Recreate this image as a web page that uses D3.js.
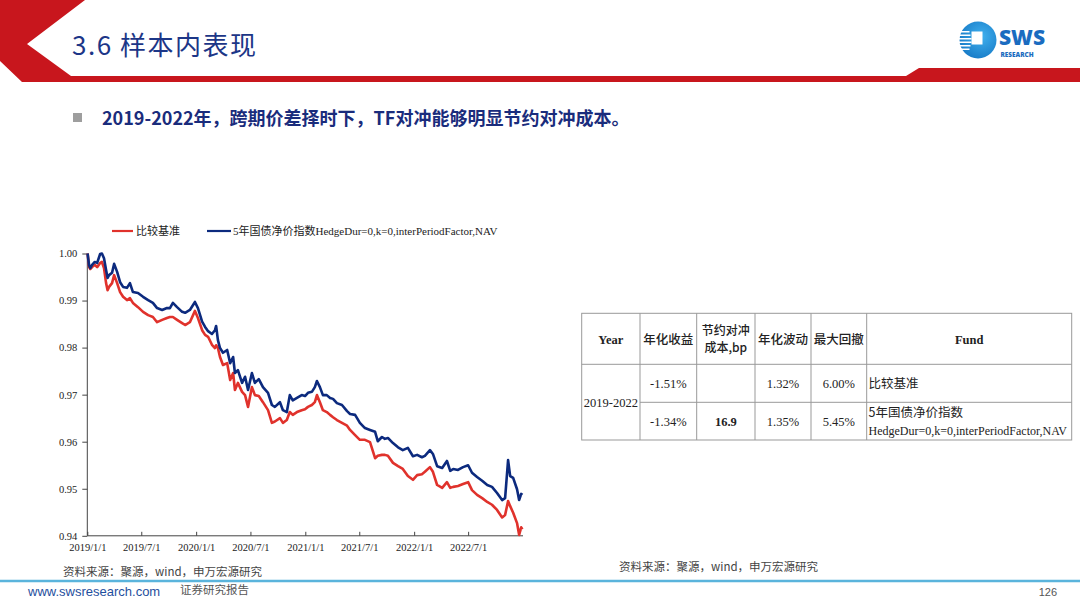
<!DOCTYPE html>
<html><head><meta charset="utf-8">
<script src="https://cdnjs.cloudflare.com/ajax/libs/d3/7.8.5/d3.min.js"></script>
<style>
html,body{margin:0;padding:0;background:#fff;}
svg{display:block;}
</style></head>
<body>
<svg id="slide" width="1080" height="608"></svg>
<script>
// ---------- data ----------
const dates = ["2019-01-02","2019-01-07","2019-01-11","2019-01-17","2019-01-26","2019-02-03","2019-02-13","2019-02-19","2019-02-26","2019-03-05","2019-03-10","2019-03-15","2019-03-25","2019-04-01","2019-04-11","2019-04-21","2019-05-01","2019-05-14","2019-05-24","2019-06-03","2019-06-20","2019-07-07","2019-07-24","2019-08-09","2019-08-23","2019-09-09","2019-09-25","2019-10-05","2019-10-15","2019-10-29","2019-11-15","2019-11-25","2019-12-11","2019-12-28","2020-01-07","2020-01-21","2020-01-31","2020-02-10","2020-02-23","2020-03-04","2020-03-08","2020-03-14","2020-03-21","2020-03-31","2020-04-14","2020-04-24","2020-05-04","2020-05-10","2020-05-20","2020-06-03","2020-06-13","2020-06-23","2020-07-06","2020-07-16","2020-07-29","2020-08-12","2020-08-29","2020-09-11","2020-09-21","2020-10-08","2020-10-18","2020-10-31","2020-11-10","2020-11-20","2020-12-04","2020-12-20","2020-12-31","2021-01-10","2021-01-23","2021-02-02","2021-02-09","2021-02-19","2021-03-01","2021-03-14","2021-03-25","2021-04-04","2021-04-17","2021-05-04","2021-05-21","2021-05-31","2021-06-17","2021-07-03","2021-07-20","2021-08-06","2021-08-23","2021-09-01","2021-09-15","2021-09-25","2021-10-05","2021-10-22","2021-11-08","2021-11-24","2021-12-11","2021-12-28","2022-01-11","2022-01-27","2022-02-06","2022-02-23","2022-03-05","2022-03-19","2022-04-05","2022-04-21","2022-05-02","2022-05-12","2022-05-28","2022-06-14","2022-07-01","2022-07-14","2022-07-31","2022-08-17","2022-09-03","2022-09-19","2022-10-06","2022-10-23","2022-11-02","2022-11-12","2022-11-19","2022-11-29","2022-12-12","2022-12-19","2022-12-26","2022-12-30"];

// 比较基准 (red)
const benchmark = [1.0000,0.9971,0.9967,0.9971,0.9976,0.9971,0.9980,0.9982,0.9969,0.9937,0.9922,0.9929,0.9937,0.9954,0.9937,0.9918,0.9908,0.9901,0.9905,0.9895,0.9886,0.9876,0.9869,0.9865,0.9854,0.9859,0.9863,0.9865,0.9865,0.9859,0.9852,0.9848,0.9854,0.9878,0.9863,0.9837,0.9827,0.9823,0.9806,0.9799,0.9805,0.9799,0.9780,0.9763,0.9767,0.9731,0.9746,0.9710,0.9725,0.9706,0.9699,0.9674,0.9716,0.9699,0.9697,0.9684,0.9667,0.9640,0.9643,0.9650,0.9640,0.9646,0.9663,0.9657,0.9663,0.9667,0.9669,0.9674,0.9678,0.9684,0.9699,0.9684,0.9667,0.9663,0.9657,0.9652,0.9646,0.9640,0.9634,0.9625,0.9614,0.9604,0.9604,0.9599,0.9565,0.9570,0.9572,0.9572,0.9570,0.9555,0.9548,0.9542,0.9527,0.9519,0.9529,0.9531,0.9536,0.9546,0.9536,0.9508,0.9502,0.9514,0.9502,0.9504,0.9506,0.9510,0.9514,0.9497,0.9487,0.9480,0.9472,0.9466,0.9455,0.9439,0.9444,0.9474,0.9463,0.9449,0.9427,0.9402,0.9418,0.9414];

// 5年国债净价指数HedgeDur=0,k=0,interPeriodFactor,NAV (blue)
const hedged = [1.0000,0.9975,0.9969,0.9976,0.9982,0.9980,0.9999,1.0000,0.9990,0.9965,0.9948,0.9954,0.9959,0.9978,0.9961,0.9939,0.9929,0.9927,0.9937,0.9918,0.9916,0.9908,0.9901,0.9895,0.9884,0.9880,0.9884,0.9884,0.9895,0.9886,0.9876,0.9874,0.9880,0.9897,0.9884,0.9855,0.9844,0.9835,0.9829,0.9837,0.9846,0.9816,0.9799,0.9789,0.9795,0.9767,0.9780,0.9746,0.9752,0.9725,0.9738,0.9710,0.9746,0.9725,0.9733,0.9716,0.9704,0.9678,0.9674,0.9684,0.9667,0.9663,0.9699,0.9688,0.9693,0.9699,0.9697,0.9704,0.9706,0.9716,0.9729,0.9716,0.9699,0.9699,0.9693,0.9691,0.9682,0.9678,0.9665,0.9659,0.9657,0.9640,0.9629,0.9625,0.9621,0.9601,0.9610,0.9606,0.9608,0.9597,0.9588,0.9582,0.9587,0.9569,0.9572,0.9567,0.9570,0.9582,0.9574,0.9548,0.9544,0.9559,0.9538,0.9542,0.9540,0.9546,0.9550,0.9534,0.9525,0.9517,0.9508,0.9504,0.9491,0.9476,0.9480,0.9561,0.9527,0.9523,0.9499,0.9476,0.9489,0.9487];

const seriesNames = ["比较基准","5年国债净价指数HedgeDur=0,k=0,interPeriodFactor,NAV"];
const yTickValues = [0.94,0.95,0.96,0.97,0.98,0.99,1.00];
const xTickDates = ["2019-01-01","2019-07-01","2020-01-01","2020-07-01","2021-01-01","2021-07-01","2022-01-01","2022-07-01"];

const tableHeader = ["Year","年化收益","节约对冲|成本,bp","年化波动","最大回撤","Fund"];
const tableYear = "2019-2022";
const rowReturn = ["-1.51%","-1.34%"];
const rowSaving = ["","16.9"];
const rowVol = ["1.32%","1.35%"];
const rowDrawdown = ["6.00%","5.45%"];
const rowFund = [["比较基准"],["5年国债净价指数","HedgeDur=0,k=0,interPeriodFactor,NAV"]];

// ---------- drawing ----------
const svg = d3.select("#slide");
const RED = "#e0322c", BLUE = "#0c2a7e", SERIF = "'Liberation Serif','Noto Sans CJK SC',serif", SANS = "'Noto Sans CJK SC','Noto Sans',sans-serif";

// header band
svg.append("path")
  .attr("d","M0,0 L85,0 L27,44 L71,76 L906,76 L919,68 L1080,68 L1080,82 L22,82 L0,61 Z")
  .attr("fill","#c8161d");
svg.append("text").attr("x",72).attr("y",54.5)
  .attr("font-family","'Noto Sans CJK SC','Noto Sans',sans-serif").attr("font-size",26)
  .attr("letter-spacing",1.5).attr("fill","#1c3687").text("3.6 样本内表现");

// logo
const logo = svg.append("g");
const grad = svg.append("defs").append("radialGradient").attr("id","lg").attr("cx","60%").attr("cy","40%").attr("r","70%");
grad.append("stop").attr("offset","0%").attr("stop-color","#3fb0ee");
grad.append("stop").attr("offset","100%").attr("stop-color","#1577c4");
logo.append("circle").attr("cx",978).attr("cy",40).attr("r",18.5).attr("fill","url(#lg)");
[31,34.5,38,41.5,45,48.5].forEach((y,i)=>{
  logo.append("rect").attr("x",959).attr("y",y).attr("width",13-Math.abs(i-2.5)*1).attr("height",1.5).attr("fill","#fff");
});
logo.append("rect").attr("x",971.5).attr("y",31.5).attr("width",11).attr("height",13).attr("fill","#fff");
logo.append("text").attr("x",999).attr("y",45).attr("font-family","'Open Sans','Noto Sans',sans-serif")
  .attr("font-weight",800).attr("font-size",21).attr("fill","#1a6cc0").text("SWS");
logo.append("text").attr("x",1000.5).attr("y",57).attr("font-family","'Open Sans','Noto Sans',sans-serif")
  .attr("font-weight",800).attr("font-size",6.4).attr("fill","#1a6cc0").text("RESEARCH");

// bullet line
svg.append("rect").attr("x",73).attr("y",113).attr("width",9).attr("height",9).attr("fill","#9e9e9e");
svg.append("text").attr("x",102).attr("y",125)
  .attr("font-family",SANS).attr("font-weight",700).attr("font-size",18)
  .attr("fill","#1a2c7c").text("2019-2022年，跨期价差择时下，TF对冲能够明显节约对冲成本。");

// chart
const parse = d3.timeParse("%Y-%m-%d");
const x = d3.scaleTime().domain([parse("2019-01-01"), parse("2023-01-01")]).range([87.3, 523]);
const y = d3.scaleLinear().domain([0.94, 1.00]).range([535.8, 253.5]);

const gx = svg.append("g").attr("transform","translate(0,535.8)")
  .call(d3.axisBottom(x).tickValues(xTickDates.map(parse)).tickSizeInner(-4).tickSizeOuter(0)
    .tickFormat(d3.timeFormat("%Y/%-m/%-d")).tickPadding(8));
const gy = svg.append("g").attr("transform","translate(87.3,0)")
  .call(d3.axisLeft(y).tickValues(yTickValues).tickSizeInner(5).tickSizeOuter(0)
    .tickFormat(d3.format(".2f")).tickPadding(5));
[gx,gy].forEach(g=>{
  g.selectAll("path,line").attr("stroke","#444").attr("stroke-width",1);
  g.selectAll("text").attr("font-family",SERIF).attr("font-size",10.5).attr("fill","#222");
});
gy.select(".domain").attr("d","M0,253.5V535.8");
gx.select(".domain").attr("d","M87.3,0H523");

const line = d3.line().x((d,i)=>x(parse(dates[i]))).y(d=>y(d)).curve(d3.curveLinear);
svg.append("path").datum(benchmark).attr("d",line).attr("fill","none")
  .attr("stroke",RED).attr("stroke-width",2.6).attr("stroke-linejoin","round");
svg.append("path").datum(hedged).attr("d",line).attr("fill","none")
  .attr("stroke",BLUE).attr("stroke-width",2.6).attr("stroke-linejoin","round");

// legend
const legend = [{c:RED,x1:112,x2:133,tx:136},{c:BLUE,x1:207,x2:231,tx:233}];
legend.forEach((l,i)=>{
  svg.append("line").attr("x1",l.x1).attr("x2",l.x2).attr("y1",231).attr("y2",231)
    .attr("stroke",l.c).attr("stroke-width",2.2);
  svg.append("text").attr("x",l.tx).attr("y",235).attr("font-family",SERIF)
    .attr("font-size",11).attr("fill","#222").text(seriesNames[i]);
});

// sources
svg.append("text").attr("x",63).attr("y",576).attr("font-family",SANS).attr("font-size",11.5)
  .attr("fill","#444").text("资料来源：聚源，wind，申万宏源研究");
svg.append("text").attr("x",619).attr("y",571).attr("font-family",SANS).attr("font-size",11.5)
  .attr("fill","#444").text("资料来源：聚源，wind，申万宏源研究");

// table
const colX = [581.7,640,696.7,755,811,866.7,1071.7];
const rowY = [313.3,364.3,402.3,440];
const tg = svg.append("g");
tg.append("rect").attr("x",colX[0]).attr("y",rowY[0]).attr("width",colX[6]-colX[0]).attr("height",rowY[3]-rowY[0])
  .attr("fill","none").attr("stroke","#999").attr("stroke-width",1);
colX.slice(1,6).forEach(cx=>tg.append("line").attr("x1",cx).attr("x2",cx).attr("y1",rowY[0]).attr("y2",rowY[3]).attr("stroke","#999"));
tg.append("line").attr("x1",colX[0]).attr("x2",colX[6]).attr("y1",rowY[1]).attr("y2",rowY[1]).attr("stroke","#999");
tg.append("line").attr("x1",colX[1]).attr("x2",colX[6]).attr("y1",rowY[2]).attr("y2",rowY[2]).attr("stroke","#999");

const cmid = i => (colX[i]+colX[i+1])/2;
tableHeader.forEach((h,i)=>{
  const parts = h.split("|");
  const latin = /^[A-Za-z]+$/.test(h);
  parts.forEach((p,j)=>{
    tg.append("text").attr("x",cmid(i)).attr("text-anchor","middle")
      .attr("y",parts.length===1 ? 343.5 : 335+j*17)
      .attr("font-family",latin?SERIF:SANS).attr("font-weight",latin?700:500)
      .attr("font-size",parts.length===1?12.5:12).attr("fill","#222").text(p);
  });
});
tg.append("text").attr("x",cmid(0)).attr("y",406.5).attr("text-anchor","middle")
  .attr("font-family",SERIF).attr("font-size",12.5).attr("fill","#222").text(tableYear);
[0,1].forEach(r=>{
  const cy = (rowY[r+1]+rowY[r+2])/2 + 4.5;
  [[1,rowReturn[r]],[2,rowSaving[r]],[3,rowVol[r]],[4,rowDrawdown[r]]].forEach(([c,t])=>{
    tg.append("text").attr("x",cmid(c)).attr("y",cy).attr("text-anchor","middle")
      .attr("font-family",SERIF).attr("font-weight",c===2?700:400).attr("font-size",12.5).attr("fill","#222").text(t);
  });
  const f = rowFund[r];
  f.forEach((t,j)=>{
    const ascii = /^[\x00-\x7F]+$/.test(t);
    tg.append("text").attr("x",868.5).attr("y",f.length===1?cy:(cy-9+j*18))
      .attr("font-family",ascii?SERIF:SANS).attr("font-size",ascii?12:12.5).attr("fill","#222").text(t);
  });
});

// footer
svg.append("line").attr("x1",0).attr("x2",1080).attr("y1",581).attr("y2",581).attr("stroke","#5ab4dc").attr("stroke-width",2.5);
svg.append("text").attr("x",28).attr("y",596).attr("font-family","'Liberation Sans','Noto Sans',sans-serif")
  .attr("font-size",13).attr("fill","#1f4f9e").text("www.swsresearch.com");
svg.append("text").attr("x",180).attr("y",594).attr("font-family",SANS)
  .attr("font-size",11.5).attr("fill","#555").text("证券研究报告");
svg.append("text").attr("x",1057).attr("y",596).attr("text-anchor","end").attr("font-family","'Liberation Sans',sans-serif")
  .attr("font-size",11).attr("fill","#555").text("126");
</script>
</body></html>
